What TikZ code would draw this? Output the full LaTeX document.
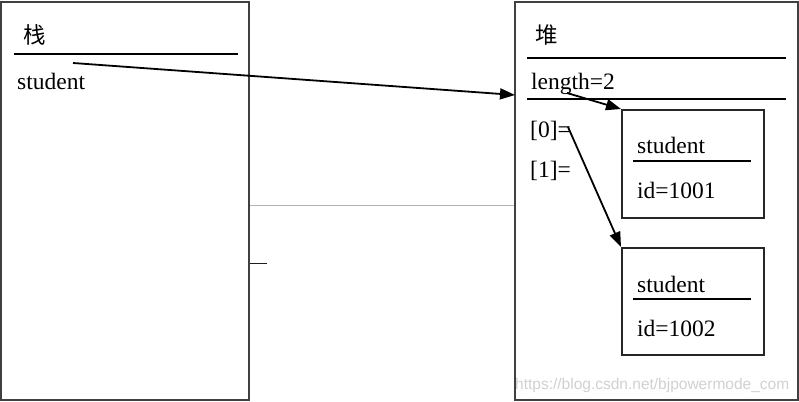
\documentclass[tikz,border=0pt]{standalone}
\usepackage{fontspec}
\setmainfont{Liberation Serif}
\newfontfamily\cjk{Noto Sans CJK SC}
\newfontfamily\wmfont{Liberation Sans}
\usetikzlibrary{arrows.meta}
\begin{document}
\begin{tikzpicture}[x=1pt,y=-1pt,
  frame/.style={draw=black!75,line width=2pt},
  sep/.style={draw=black,line width=2.8pt},
  lbl/.style={anchor=base west,inner sep=0pt,font=\fontsize{23.5}{27}\selectfont},
  cjklbl/.style={anchor=base west,inner sep=0pt,font=\cjk\fontsize{22.5}{26}\selectfont},
  arr/.style={draw=black,line width=1.8pt,-{Triangle[length=15pt,width=11pt]}}]
\useasboundingbox[fill=white] (0,0) rectangle (799,401);
% frames
\draw[frame] (1,2) rectangle (249,400);
\draw[frame] (515,2) rectangle (798,400);
\node[frame,draw=black!85,minimum width=142pt,minimum height=108pt,inner sep=0pt,anchor=north west] (inner1) at (621,109) {};
\node[frame,draw=black!85,minimum width=142pt,minimum height=107pt,inner sep=0pt,anchor=north west] (inner2) at (621,247) {};
% connecting lines between columns
\draw[draw=black!30,line width=1.5pt] (250,205.5) -- (514,205.5);
\draw[draw=blue,line width=1.8pt] (250,263.5) -- (267,263.5);
% stack
\node[cjklbl] (zhan) at (23,44) {栈};
\draw[sep] (14,54) -- (238,54);
\node[lbl] (stud) at (17,90) {student};
% heap
\node[cjklbl] (dui) at (535,44) {堆};
\draw[sep] (527,58) -- (786,58);
\node[lbl] (len) at (531,90) {length=2};
\draw[sep] (527,99) -- (786,99);
\node[lbl] (i0) at (530,137) {[0]=};
\node[lbl] (i1) at (530,177) {[1]=};
% objects
\node[lbl] (s1) at (637,153) {student};
\draw[sep,line width=2.4pt] (633,161) -- (751,161);
\node[lbl] (id1) at (637,198) {id=1001};
\node[lbl] (s2) at (637,292) {student};
\draw[sep,line width=2.4pt] (633,299) -- (751,299);
\node[lbl] (id2) at (637,336) {id=1002};
% arrows
\coordinate (a0) at (73,63);
\coordinate (a1) at (567,93);
\coordinate (a2) at (568,127);
\draw[arr] (a0) -- (515,95);
\draw[arr] (a1) -- (inner1.north west);
\draw[arr] (a2) -- (inner2.north west);
% watermark
\node[anchor=base west,inner sep=0pt,text=black!18,font=\wmfont\fontsize{15.5}{17}\selectfont] (wm) at (515,389) {https://blog.csdn.net/bjpowermode\_com};
\end{tikzpicture}
\end{document}
